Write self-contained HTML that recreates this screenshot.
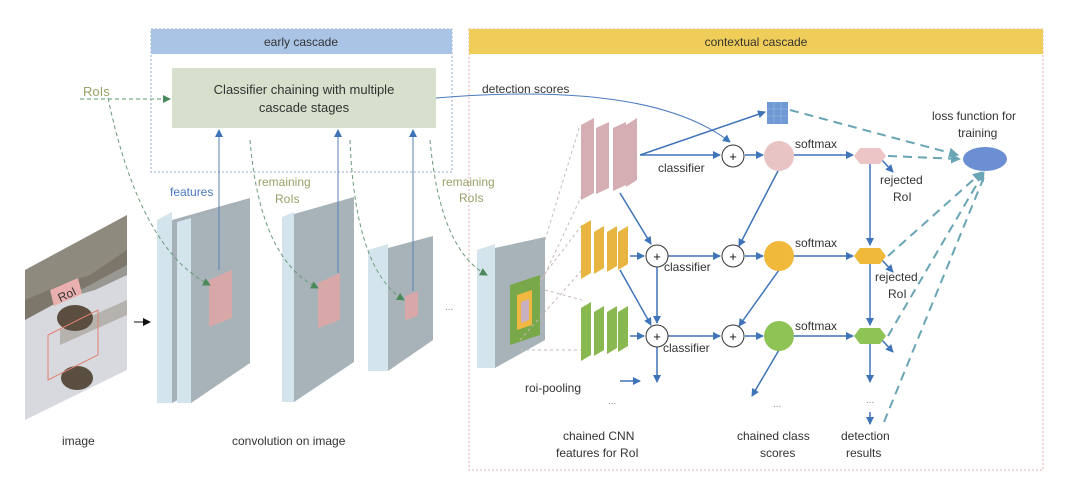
<!DOCTYPE html>
<html><head><meta charset="utf-8"><style>
body{margin:0;background:#fff;width:1080px;height:474px;overflow:hidden}
text{font-family:"Liberation Sans",sans-serif}
</style></head><body>
<svg width="1080" height="474" viewBox="0 0 1080 474">
<defs>
<marker id="ab" markerWidth="8" markerHeight="8" refX="7" refY="4" orient="auto" markerUnits="userSpaceOnUse"><path d="M0,0 L8,4 L0,8 Z" fill="#3f74b8"/></marker>
<marker id="ag" markerWidth="8" markerHeight="8" refX="7" refY="4" orient="auto" markerUnits="userSpaceOnUse"><path d="M0,0 L8,4 L0,8 Z" fill="#4a8a5a"/></marker>
<marker id="at" markerWidth="10" markerHeight="10" refX="9" refY="5" orient="auto" markerUnits="userSpaceOnUse"><path d="M0,0 L10,5 L0,10 Z" fill="#6aa5b5"/></marker>
<marker id="ak" markerWidth="8" markerHeight="8" refX="7" refY="4" orient="auto" markerUnits="userSpaceOnUse"><path d="M0,0 L8,4 L0,8 Z" fill="#111"/></marker>
</defs>

<rect x="151" y="29" width="301" height="143" fill="none" stroke="#9aa8c0" stroke-dasharray="2,2"/>
<rect x="151" y="29" width="301" height="25" fill="#aac4e6"/>
<text x="301" y="46" font-size="12" text-anchor="middle" fill="#333">early cascade</text>
<rect x="469" y="29" width="574" height="441" fill="none" stroke="#e0b0b0" stroke-dasharray="2,2"/>
<rect x="469" y="29" width="574" height="25" fill="#f0cd58"/>
<text x="756" y="46" font-size="12" text-anchor="middle" fill="#333">contextual cascade</text>

<rect x="172" y="68" width="264" height="60" fill="#d6e0cd"/>
<text x="304" y="94" font-size="13" text-anchor="middle" fill="#333">Classifier chaining with multiple</text>
<text x="304" y="112" font-size="13" text-anchor="middle" fill="#333">cascade stages</text>

<text x="83" y="96" font-size="13" fill="#9aa066">RoIs</text>
<line x1="80" y1="99" x2="170" y2="99" stroke="#5a9a6a" stroke-dasharray="4,3" marker-end="url(#ag)"/>

<!-- image -->
<polygon points="25,270 127,215 127,370 25,420" fill="#d8d9de"/>
<polygon points="25,270 127,215 127,265 25,320" fill="#8f8a7e"/>
<path d="M25,300 L60,285 L90,275 L127,250 L127,275 L95,290 L60,300 L25,320Z" fill="#6f6a5e" opacity="0.6"/>
<path d="M60,330 L127,300 L127,315 L60,345Z" fill="#a09a90" opacity="0.6"/>
<ellipse cx="75" cy="318" rx="18" ry="13" fill="#5b4e40"/>
<ellipse cx="77" cy="378" rx="16" ry="12" fill="#5a4e40"/>
<polygon points="50,290 78,278 82,294 54,306" fill="#eab0b0"/>
<text x="58" y="300" font-size="12" fill="#333" transform="rotate(-25 64 296)">RoI</text>
<polygon points="48,335 98,310 98,355 48,380" fill="none" stroke="#e08070"/>
<line x1="134" y1="322" x2="150" y2="322" stroke="#111" marker-end="url(#ak)"/>

<polygon points="157,220 172,212 172,403 157,403" fill="#d4e4ec"/>
<polygon points="172,220 250,198 250,363 172,403" fill="#a6b0b6"/>
<polygon points="177,222 191,218 191,403 177,403" fill="#d4e4ec"/>
<polygon points="191,218 250,200 250,363 191,403" fill="#a8b3b9"/>
<polygon points="209,280 232,270 232,318 209,327" fill="#d8a8a8"/>
<polygon points="282,217 294,212 294,402 282,402" fill="#d4e4ec"/>
<polygon points="294,214 354,197 354,362 294,402" fill="#a8b3b9"/>
<polygon points="318,283 340,273 340,320 318,328" fill="#d8a8a8"/>
<polygon points="368,250 388,244 388,371 368,371" fill="#d4e4ec"/>
<polygon points="388,248 433,236 433,340 388,371" fill="#a8b3b9"/>
<polygon points="405,296 418,291 418,316 405,320" fill="#d8a8a8"/>
<text x="445" y="310" font-size="10" fill="#888">...</text>
<polygon points="477,250 495,244 495,368 477,368" fill="#d4e4ec"/>
<polygon points="495,248 545,237 545,340 495,368" fill="#a8b3b9"/>
<polygon points="510,285 540,275 540,335 510,345" fill="#78a84a"/>
<polygon points="517,295 532,290 532,325 517,330" fill="#f0b840"/>
<polygon points="521,302 529,299 529,320 521,323" fill="#c9b0c0"/>

<line x1="219" y1="270" x2="219" y2="130" stroke="#5a80b8" marker-end="url(#ab)"/>
<line x1="338" y1="273" x2="338" y2="130" stroke="#5a80b8" marker-end="url(#ab)"/>
<line x1="413" y1="291" x2="413" y2="130" stroke="#5a80b8" marker-end="url(#ab)"/>
<text x="170" y="196" font-size="12" fill="#4a7ac0">features</text>
<text x="258" y="186" font-size="12" fill="#9aa066">remaining</text>
<text x="275" y="203" font-size="12" fill="#9aa066">RoIs</text>
<text x="442" y="186" font-size="12" fill="#9aa066">remaining</text>
<text x="459" y="202" font-size="12" fill="#9aa066">RoIs</text>
<g fill="none" stroke="#6a9a7a" stroke-dasharray="4,3">
<path d="M108,98 Q140,250 210,285" marker-end="url(#ag)"/>
<path d="M250,140 Q260,260 318,288" marker-end="url(#ag)"/>
<path d="M350,140 Q355,270 404,300" marker-end="url(#ag)"/>
<path d="M430,140 Q440,250 487,275" marker-end="url(#ag)"/>
</g>
<g stroke="#c8b8b8" stroke-dasharray="3,3" fill="none">
<line x1="545" y1="240" x2="580" y2="125"/><line x1="540" y1="285" x2="582" y2="195"/>
<line x1="540" y1="280" x2="582" y2="225"/><line x1="520" y1="340" x2="582" y2="270"/>
<line x1="545" y1="290" x2="582" y2="300"/><line x1="520" y1="350" x2="582" y2="350"/>
</g>

<g fill="#d4aeb2"><polygon points="581,125 594,118 594,193 581,200"/><polygon points="596,128 609,122 609,188 596,194"/><polygon points="613,128 626,122 626,185 613,191"/><polygon points="626,125 637,118 637,180 626,187"/></g>
<g fill="#e8b640"><polygon points="581,226 591,220 591,273 581,279"/><polygon points="594,232 604,226 604,268 594,274"/><polygon points="607,232 617,226 617,266 607,272"/><polygon points="618,232 628,226 628,264 618,270"/></g>
<g fill="#8ab850"><polygon points="581,308 591,302 591,355 581,361"/><polygon points="594,312 604,306 604,350 594,356"/><polygon points="607,312 617,306 617,348 607,354"/><polygon points="618,312 628,306 628,346 618,352"/></g>

<text x="482" y="93" font-size="12" fill="#333">detection scores</text>
<path d="M436,98 Q650,80 730,142" fill="none" stroke="#4a7ac0" marker-end="url(#ab)"/>

<g stroke="#3f74b8" stroke-width="1.5" fill="none">
<line x1="640" y1="155" x2="720" y2="155" marker-end="url(#ab)"/>
<line x1="640" y1="155" x2="765" y2="112" marker-end="url(#ab)"/>
<line x1="745" y1="155" x2="763" y2="155" marker-end="url(#ab)"/>
<line x1="794" y1="155" x2="853" y2="155" marker-end="url(#ab)"/>
<line x1="620" y1="193" x2="651" y2="244" marker-end="url(#ab)"/>
<line x1="620" y1="270" x2="651" y2="325" marker-end="url(#ab)"/>
<line x1="630" y1="256" x2="644" y2="256" marker-end="url(#ab)"/>
<line x1="668" y1="256" x2="720" y2="256" marker-end="url(#ab)"/>
<line x1="745" y1="256" x2="763" y2="256" marker-end="url(#ab)"/>
<line x1="794" y1="256" x2="853" y2="256" marker-end="url(#ab)"/>
<line x1="630" y1="336" x2="644" y2="336" marker-end="url(#ab)"/>
<line x1="668" y1="336" x2="720" y2="336" marker-end="url(#ab)"/>
<line x1="745" y1="336" x2="763" y2="336" marker-end="url(#ab)"/>
<line x1="794" y1="336" x2="853" y2="336" marker-end="url(#ab)"/>
<line x1="657" y1="267" x2="657" y2="323" marker-end="url(#ab)"/>
<line x1="657" y1="347" x2="657" y2="382" marker-end="url(#ab)"/>
<line x1="779" y1="169" x2="739" y2="246" marker-end="url(#ab)"/>
<line x1="779" y1="270" x2="739" y2="326" marker-end="url(#ab)"/>
<line x1="779" y1="350" x2="752" y2="396" marker-end="url(#ab)"/>
<line x1="870" y1="163" x2="870" y2="245" marker-end="url(#ab)"/>
<line x1="870" y1="264" x2="870" y2="325" marker-end="url(#ab)"/>
<line x1="870" y1="344" x2="870" y2="382" marker-end="url(#ab)"/>
<line x1="870" y1="412" x2="870" y2="424" marker-end="url(#ab)"/>
<line x1="882" y1="160" x2="893" y2="172" marker-end="url(#ab)"/>
<line x1="882" y1="260" x2="893" y2="272" marker-end="url(#ab)"/>
<line x1="882" y1="340" x2="893" y2="352" marker-end="url(#ab)"/>
<line x1="620" y1="381" x2="640" y2="381" marker-end="url(#ab)"/>
</g>
<g fill="#fff" stroke="#333" stroke-width="1">
<circle cx="733" cy="156" r="11"/><circle cx="657" cy="256" r="11"/><circle cx="733" cy="256" r="11"/><circle cx="657" cy="336" r="11"/><circle cx="733" cy="336" r="11"/>
</g>
<g font-size="13" text-anchor="middle" fill="#111"><text x="733" y="161">+</text><text x="657" y="261">+</text><text x="733" y="261">+</text><text x="657" y="341">+</text><text x="733" y="341">+</text></g>
<circle cx="779" cy="156" r="15" fill="#e8c4c4"/>
<circle cx="779" cy="256" r="15" fill="#f0b93a"/>
<circle cx="779" cy="336" r="15" fill="#8ec455"/>
<polygon points="860,148 880,148 886,156 880,164 860,164 854,156" fill="#ecc6c6"/>
<polygon points="860,248 880,248 886,256 880,264 860,264 854,256" fill="#f0b93a"/>
<polygon points="860,328 880,328 886,336 880,344 860,344 854,336" fill="#8ec455"/>
<rect x="767" y="102" width="21" height="22" fill="#6f9ad6"/>
<path d="M774,102V124M781,102V124M767,109H788M767,116H788" stroke="#9ab8e0" stroke-width="0.6"/>
<ellipse cx="985" cy="159" rx="22" ry="12" fill="#6b8fd2"/>

<g stroke="#6aa5b5" stroke-width="2" stroke-dasharray="9,6" fill="none">
<line x1="790" y1="110" x2="958" y2="155" marker-end="url(#at)"/>
<line x1="888" y1="156" x2="960" y2="159" marker-end="url(#at)"/>
<line x1="888" y1="256" x2="982" y2="172" marker-end="url(#at)"/>
<line x1="888" y1="336" x2="984" y2="172" marker-end="url(#at)"/>
<line x1="884" y1="422" x2="986" y2="172"/>
</g>

<g font-size="12" fill="#333">
<text x="658" y="172">classifier</text>
<text x="664" y="271">classifier</text>
<text x="663" y="352">classifier</text>
<text x="795" y="148">softmax</text>
<text x="795" y="247">softmax</text>
<text x="795" y="330">softmax</text>
<text x="880" y="184">rejected</text><text x="893" y="201">RoI</text>
<text x="875" y="281">rejected</text><text x="888" y="298">RoI</text>
<text x="932" y="120">loss function for</text><text x="958" y="137">training</text>
<text x="525" y="392">roi-pooling</text>
<text x="62" y="445">image</text>
<text x="232" y="445">convolution on image</text>
<text x="563" y="440">chained CNN</text><text x="556" y="457">features for RoI</text>
<text x="737" y="440">chained class</text><text x="760" y="457">scores</text>
<text x="841" y="440">detection</text><text x="846" y="457">results</text>
</g>
<g font-size="10" fill="#888"><text x="608" y="404">...</text><text x="773" y="407">...</text><text x="866" y="403">...</text></g>
</svg>
</body></html>
